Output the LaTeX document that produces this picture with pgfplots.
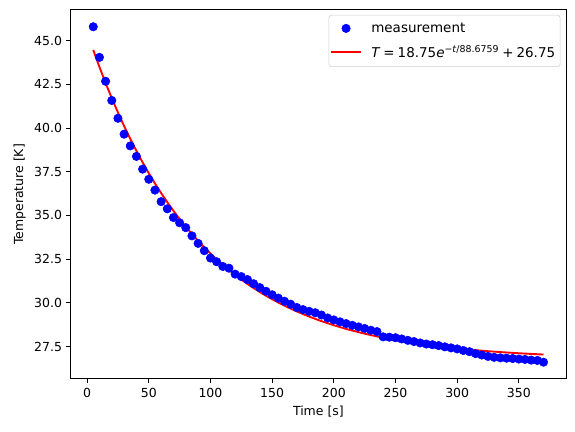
\documentclass[border=0pt]{standalone}
\usepackage{fontspec}
\setmainfont{DejaVu Sans}
\usepackage{pgfplots}
\usepackage{pgfplotstable}
\pgfplotsset{compat=1.18}
\pgfplotstableread{
t T F
5 45.80 44.472
10 44.05 43.500
15 42.68 42.582
20 41.58 41.714
25 40.56 40.894
30 39.65 40.118
35 38.98 39.385
40 38.38 38.693
45 37.65 38.038
50 37.07 37.419
55 36.45 36.834
60 35.79 36.281
65 35.38 35.759
70 34.88 35.265
75 34.58 34.798
80 34.30 34.357
85 33.83 33.940
90 33.40 33.546
95 32.98 33.173
100 32.56 32.821
105 32.35 32.488
110 32.08 32.173
115 31.98 31.876
120 31.64 31.595
125 31.50 31.329
130 31.33 31.078
135 31.09 30.841
140 30.87 30.617
145 30.66 30.405
150 30.46 30.205
155 30.27 30.015
160 30.09 29.836
165 29.92 29.667
170 29.73 29.507
175 29.61 29.356
180 29.51 29.213
185 29.43 29.078
190 29.30 28.950
195 29.13 28.830
200 29.02 28.716
205 28.91 28.608
210 28.81 28.506
215 28.71 28.410
220 28.62 28.319
225 28.53 28.233
230 28.43 28.152
235 28.35 28.075
240 28.05 28.002
245 28.03 27.934
250 28.00 27.869
255 27.93 27.807
260 27.85 27.749
265 27.78 27.695
270 27.70 27.643
275 27.64 27.594
280 27.60 27.548
285 27.55 27.504
290 27.48 27.463
295 27.42 27.424
300 27.36 27.387
305 27.27 27.352
310 27.20 27.319
315 27.09 27.288
320 27.01 27.258
325 26.93 27.230
330 26.88 27.204
335 26.85 27.179
340 26.83 27.156
345 26.81 27.133
350 26.78 27.112
355 26.76 27.092
360 26.72 27.074
365 26.70 27.056
370 26.60 27.039
}\datatable
\begin{document}
\begin{tikzpicture}
\path[use as bounding box] (0,0) rectangle (460.8pt,345.6pt);
\begin{axis}[
  at={(56.7pt,41.9pt)}, anchor=south west,
  scale only axis, width=396.9pt, height=295.7pt,
  xmin=-13.25, xmax=388.25, ymin=25.64, ymax=46.76,
  xtick={0,50,...,350},
  ytick={27.5,30,32.5,35,37.5,40,42.5,45},
  yticklabel style={/pgf/number format/.cd,fixed,fixed zerofill,precision=1},
  /pgf/number format/assume math mode=true,
  ticklabel style={font=\fontsize{10}{12}\selectfont},
  tick align=outside, major tick length=3.5pt,
  tick style={line width=0.8pt, black},
  axis line style={line width=0.8pt},
  xtick pos=bottom, ytick pos=left,
  xlabel={Time [s]}, ylabel={Temperature [K]},
  label style={font=\fontsize{10}{12}\selectfont},
  legend style={at={(1,1)}, anchor=north east, xshift=-4.5pt, yshift=-4pt,
    draw=black!20, rounded corners=2pt, font=\fontsize{10.8}{13}\selectfont,
    inner xsep=1pt, inner ysep=4pt, row sep=5pt,
    nodes={inner xsep=3pt},
    /tikz/every odd column/.append style={column sep=4.5pt}},
  legend cell align=left,
]
\addplot[only marks, mark=*, mark size=3.4pt, color=blue, mark options={fill=blue, draw=blue}]
  table[x=t, y=T] {\datatable};
\addlegendimage{legend image code/.code={\fill[blue] (12pt,0pt) circle (3.4pt); \path[draw=none,fill=none] (0pt,-3pt) rectangle (24pt,3pt);}}
\addplot[red, line width=1.5pt, no marks,
  legend image code/.code={\draw[red, line width=1.5pt] (0pt,0pt) -- (24pt,0pt);}]
  table[x=t, y=F] {\datatable};
\legend{,measurement,\textit{T}\:=\:18.75\textit{e}\textsuperscript{−\textit{t}/88.6759}\:+\:26.75}
\end{axis}
\end{tikzpicture}
\end{document}
